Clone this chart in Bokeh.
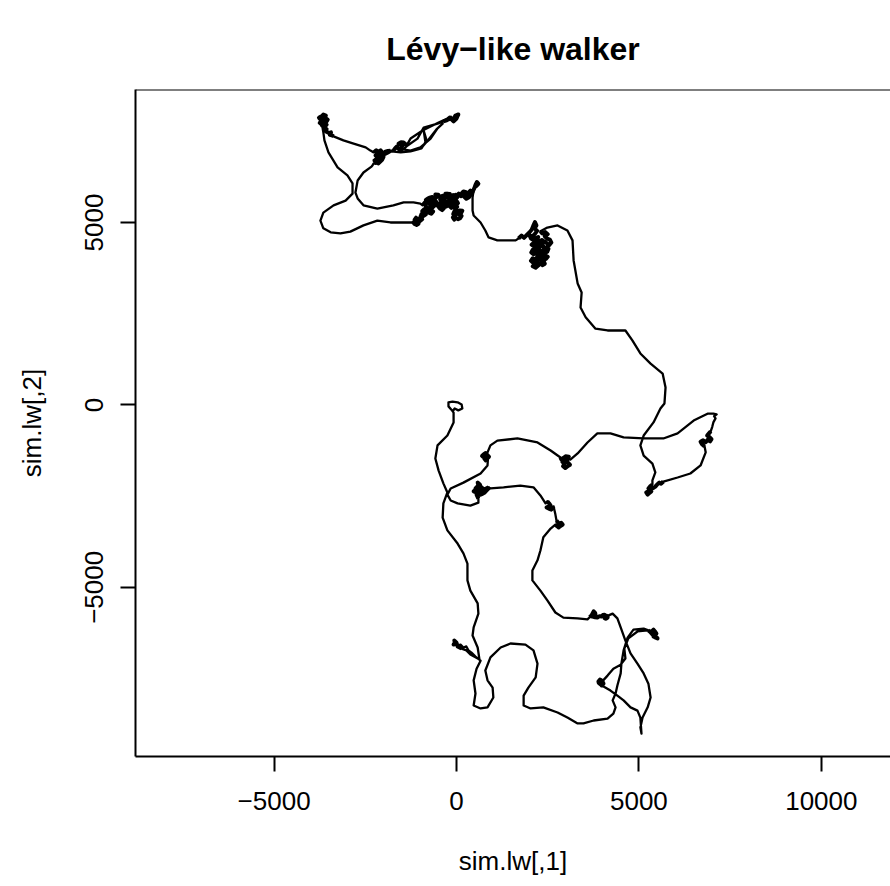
from bokeh.plotting import figure
from bokeh.models import Range1d, FixedTicker, Span
from bokeh.embed import file_html
from bokeh.resources import INLINE

title_text = "Lévy−like walker"
x_title = "sim.lw[,1]"
y_title = "sim.lw[,2]"
x_ticks = [-5000, 0, 5000, 10000]
x_tick_labels = ["−5000", "0", "5000", "10000"]
y_ticks = [-5000, 0, 5000]
y_tick_labels = ["−5000", "0", "5000"]

# walk, in order, piece by piece (data units)
seg_f_start = [(30,5190),(90,5230),(140,5180),(100,5120),(40,5090),(-20,5130),(-60,5080),(-100,5140),(-50,5190),(10,5240),(70,5290),(130,5270),(160,5320),(90,5330),(20,5300),(-40,5260),(-90,5230),(-60,5300),(0,5340),
               (-50,5390),(20,5430),(-30,5480),(40,5530),(0,5590),(-60,5550),(-110,5500),(-80,5440),(-140,5400),(-190,5450),(-150,5520),(-90,5600),(-30,5650),(30,5700),(-20,5760),(-80,5720),(-140,5670),(-200,5620),(-250,5560),(-220,5490),(-280,5440),(-330,5490),(-300,5560),(-350,5620),(-300,5680),(-240,5730),(-180,5780),(-260,5790),(-330,5740),(-400,5690),(-450,5640),(-410,5570),(-460,5510),(-400,5460),(-340,5400),(-390,5340),(-450,5380),(-500,5440),(-520,5520),
               (-570,5580),(-620,5640),(-680,5600),(-640,5530),(-590,5470),(-650,5420),(-710,5470),(-760,5530),(-720,5600),(-780,5660),(-840,5620),(-810,5550),(-870,5500),(-830,5430),(-770,5380),(-700,5340),(-640,5300),(-690,5240),(-760,5270),(-820,5320),(-890,5360),(-940,5310),(-900,5250),(-840,5220),(-900,5180),(-960,5230),
               (-990,5150),(-940,5090),(-1000,5040),(-1060,5090),(-1110,5130),(-1150,5070),(-1100,5010),(-1040,4970),(-1090,4930),(-1150,4960),(-1180,5000),(-1120,5040),(-1070,5000)]
seg_west_loop = [(-1340,5000),(-1620,5000),(-1810,5000),(-2170,5050),(-2550,4920),(-2910,4750),(-3180,4700),(-3450,4730),(-3650,4840),(-3730,5050),(-3650,5270),(-3370,5470),(-3040,5600),(-2850,5790),(-2850,6070),(-2990,6290),(-3260,6510),(-3510,6920),(-3620,7250),(-3650,7470)]
seg_a = [(-3670,7580),(-3610,7630),(-3560,7680),(-3620,7720),(-3690,7690),(-3750,7730),(-3700,7780),(-3630,7800),(-3570,7760),(-3530,7820),(-3590,7860),(-3660,7840),(-3730,7820),(-3770,7870),(-3710,7910),(-3640,7900),(-3580,7930),(-3650,7960),(-3700,7900),(-3640,7860),(-3590,7800),(-3660,7760),(-3720,7720),(-3680,7650),(-3620,7600),(-3560,7560),(-3610,7520),(-3550,7480),(-3490,7450),(-3440,7470),(-3470,7400),(-3400,7380),(-3370,7360)]
seg_a_c = [(-3100,7250),(-2820,7160),(-2490,7060),(-2360,6970)]
seg_c = [(-2270,6920),(-2200,6980),(-2140,6930),(-2080,6980),(-2040,6920),(-2090,6870),(-2160,6880),(-2220,6840),(-2170,6790),(-2110,6810),(-2060,6760),(-2120,6710),(-2190,6730),(-2250,6700),(-2200,6650),(-2140,6620),(-2090,6670),(-2040,6720),(-2000,6800),(-2050,6860),(-1990,6900),(-1950,6940),(-1880,6960),(-1810,6970)]
seg_d = [(-1730,6970),(-1680,7040),(-1640,7080),(-1560,7000),(-1500,7060),(-1480,7110),(-1540,7140),(-1590,7160),(-1520,7200),(-1450,7190),(-1400,7150),(-1370,7110)]
seg_d_e = [(-1260,7300),(-930,7520),(-490,7740),(-250,7850)]
seg_e = [(-190,7900),(-110,7820),(-60,7880),(-30,7930),(50,7960),(20,7900),(0,7850),(-80,7770),(-130,7820),(-160,7850),(-220,7830),(-270,7800),(-360,7770)]
seg_e_d = [(-520,7710),(-900,7600),(-1070,7300),(-1340,7110)]
seg_d2 = [(-1430,7030),(-1530,6950),(-1640,7030),(-1260,6970),(-990,7060),(-710,7300),(-520,7580),(-380,7710),(-550,7550),(-770,7270),(-930,7080),(-850,7190),(-900,7520),(-820,7250),(-960,7030),(-1260,6950),(-1530,6920)]
seg_c2 = [(-1780,6950),(-1870,6900),(-1950,6860),(-2030,6830),(-2110,6840),(-2180,6790),(-2220,6750),(-2160,6700),(-2140,6640),(-2210,6610),(-2270,6620),(-2300,6570),(-2330,6530)]
seg_c_f = [(-2550,6370),(-2710,6150),(-2770,5820),(-2710,5660),(-2550,5470),(-2170,5380),(-1730,5470),(-1450,5550),(-1180,5550),(-990,5520)]
seg_f2 = [(-930,5470),(-880,5530),(-820,5600),(-760,5560),(-700,5620),(-740,5680),(-660,5700),(-600,5650),(-540,5700),(-580,5770),(-500,5760),(-450,5690),(-380,5730),(-330,5670),(-270,5720),(-300,5790),(-220,5780),(-170,5710),(-100,5750),(-60,5680),(0,5730),(60,5790),(120,5720),(190,5760),(250,5700),(310,5770),(260,5830),(190,5850),(140,5800),(200,5720),(270,5650),(340,5690),(390,5760),(330,5820),(380,5870),(420,5790),(450,5860),(490,5940),(520,6030),(560,6110),(600,6060),(540,6000),(480,5960)]
seg_f_h = [(440,5680),(440,5330),(470,5190),(660,5000),(790,4780),(880,4590),(1120,4510),(1400,4510),(1620,4510)]
seg_h = [(1700,4560),(1780,4640),(1850,4580),(1920,4650),(1990,4720),(2060,4800),(2100,4900),(2150,5010),(2190,4920),(2140,4840),(2210,4770),(2150,4690),(2080,4620),(2000,4650),(2040,4560),(2110,4520),(2160,4560),(2240,4600),(2200,4500),(2120,4450),(2060,4390),(2130,4340),(2190,4380),(2260,4420),(2300,4340),(2220,4290),(2160,4220),(2090,4250),(2050,4180),(2110,4130),(2170,4150),(2240,4170),(2310,4230),(2370,4160),(2300,4100),(2220,4060),(2160,3990),(2090,4020),(2040,3950),(2100,3900),(2160,3930),(2230,3930),(2150,3870),(2090,3800),(2170,3760),(2240,3820),(2300,3880),(2360,3830),(2420,3870),(2400,3920),(2330,3970),(2390,4040),(2450,4000),(2500,4060),(2430,4100),(2350,4080),(2280,4010),(2260,4110),(2330,4190),(2400,4250),(2460,4320),(2520,4280),(2490,4200),(2430,4170),(2380,4350),(2330,4430),(2270,4480),(2340,4520),(2410,4470),(2480,4430),(2540,4380),(2600,4450),(2560,4530),(2480,4560),(2420,4620),(2500,4680),(2430,4740),(2350,4700),(2300,4760)]
seg_h_m = [(2490,4860),(2770,4920),(3040,4780),(3180,4510),(3210,3960),(3320,3330),(3430,3080),(3400,2670),(3540,2400),(3810,2090),(4140,2040),(4630,2040),(4820,1770),(5040,1410),(5320,1130),(5650,860),(5730,480),(5700,40),(5590,-100),(5400,-480),(5130,-840),(5040,-1110),(5130,-1390),(5370,-1610),(5450,-1850),(5370,-2070)]
seg_m = [(5370,-2180),(5300,-2240),(5260,-2290),(5310,-2340),(5340,-2370),(5280,-2420),(5240,-2460),(5200,-2400),(5270,-2360),(5320,-2320),(5390,-2280),(5450,-2240),(5500,-2180),(5560,-2130),(5610,-2160),(5670,-2100)]
seg_m_l = [(6060,-1990),(6410,-1880),(6690,-1660),(6830,-1300)]
seg_l = [(6800,-1140),(6730,-1080),(6690,-1010),(6760,-970),(6830,-1020),(6880,-960),(6950,-1000),(6990,-940),(6930,-880),(6870,-840),(6920,-780),(6970,-720)]
seg_l_k = [(7010,-600),(7040,-480),(7100,-370),(7060,-310),(7130,-260),(7040,-240)]
seg_k_j = [(6880,-240),(6500,-430),(6060,-780),(5670,-920),(5130,-920),(4580,-890),(4220,-780),(3860,-780),(3590,-1030),(3320,-1330),(3120,-1500)]
seg_j = [(3070,-1470),(3010,-1530),(3060,-1590),(3110,-1640),(3050,-1680),(2980,-1730),(2920,-1680),(2960,-1610),(2900,-1560),(2960,-1510),(3020,-1470),(3080,-1420),(2990,-1410),(2940,-1450),(2870,-1490),(2850,-1440)]
seg_j_i = [(2580,-1250),(2220,-1030),(1670,-920),(1120,-980),(930,-1110),(850,-1300)]
seg_i = [(790,-1390),(740,-1430),(700,-1400),(750,-1350),(800,-1320),(840,-1370),(890,-1420),(840,-1470),(800,-1520),(760,-1470),(820,-1440),(860,-1500)]
seg_i_o = [(850,-1660),(660,-1880),(190,-2130),(-160,-2290),(-250,-2460),(-160,-2620),(30,-2700),(380,-2760),(600,-2680)]
seg_o = [(600,-2570),(550,-2460),(630,-2370),(520,-2290),(600,-2210),(580,-2130),(640,-2180),(660,-2240),(720,-2290),(770,-2320),(830,-2280),(880,-2290),(820,-2350),(770,-2400),(710,-2440),(660,-2460),(620,-2400),(540,-2400),(470,-2370),(520,-2330),(580,-2350),(650,-2310),(710,-2350),(800,-2300),(880,-2260)]
seg_o_p = [(930,-2290),(1290,-2260),(1750,-2210),(2110,-2260),(2300,-2480),(2440,-2700)]
seg_p = [(2490,-2640),(2540,-2700),(2580,-2760),(2520,-2790),(2470,-2810),(2540,-2850),(2600,-2870),(2640,-2820),(2660,-2780)]
seg_p_q = [(2710,-3000)]
seg_q = [(2740,-3170),(2780,-3220),(2820,-3250),(2870,-3230),(2910,-3280),(2850,-3320),(2800,-3360),(2750,-3320),(2710,-3280)]
seg_q_t = [(2580,-3390),(2380,-3630),(2300,-3990),(2220,-4260),(2080,-4540),(2080,-4810),(2300,-5090),(2490,-5360),(2710,-5690),(2930,-5830),(3320,-5850),(3590,-5880)]
seg_t_u = [(3650,-5820),(3700,-5770),(3740,-5700),(3760,-5660),(3800,-5700),(3810,-5750),(3760,-5790),(3730,-5800),(3800,-5820),(3860,-5830),(3920,-5790),(3970,-5800),(4010,-5760),(4060,-5750),(4110,-5790),(4140,-5830),(4100,-5860),(4060,-5850),(4120,-5810),(4170,-5770)]
seg_u_tip = [(4280,-5720),(4410,-5850),(4500,-6100),(4630,-6460),(4770,-6810),(4960,-7090),(5130,-7360),(5260,-7640),(5320,-8020),(5240,-8290),(5100,-8570),(5040,-8840),(5070,-9010)]
seg_tip_v = [(5040,-8570),(4960,-8380),(4770,-8290),(4580,-8100),(4410,-7970),(4220,-7830),(4030,-7720)]
seg_v = [(3950,-7660),(3900,-7620),(3890,-7580),(3930,-7530),(3970,-7550),(4010,-7600),(4030,-7640),(3980,-7690),(3940,-7640)]
seg_v_r = [(4140,-7420),(4300,-7230),(4500,-7120),(4630,-6950),(4600,-6680),(4710,-6400),(4960,-6210),(5240,-6180)]
seg_r = [(5320,-6240),(5360,-6200),(5400,-6160),(5440,-6210),(5480,-6270),(5440,-6310),(5400,-6350),(5460,-6380),(5510,-6400),(5450,-6330),(5370,-6290),(5310,-6220),(5260,-6180)]
seg_r_loop = [(5130,-6130),(4850,-6160),(4690,-6380),(4580,-6730),(4520,-7090),(4500,-7360),(4410,-7690),(4360,-7910),(4280,-8100),(4360,-8290),(4300,-8460),(4140,-8600),(3760,-8650),(3480,-8730),(3320,-8730),(3040,-8570),(2770,-8430),(2380,-8290),(2030,-8320),(1840,-8240),(1840,-7970),(1970,-7750),(2170,-7470),(2220,-7090),(2110,-6730),(1890,-6570),(1480,-6540),(1210,-6650),(930,-6920),(790,-7280),(850,-7550),(990,-7750),(1010,-8020),(850,-8290),(660,-8320),(470,-8240),(520,-7910),(470,-7550),(550,-7230),(660,-7010)]
seg_s_trail = [(520,-6900),(410,-6790),(330,-6730),(270,-6620),(190,-6650),(110,-6570)]
seg_s = [(30,-6600),(-30,-6490),(-80,-6570),(-20,-6540),(-60,-6460),(0,-6520),(30,-6620),(140,-6680)]
seg_s_back = [(270,-6730),(380,-6840),(520,-6920),(630,-6980)]
seg_s_n = [(580,-6650),(440,-6320),(470,-6100),(600,-5720),(580,-5440),(380,-5090),(300,-4810),(300,-4350),(190,-4070),(30,-3800),(-250,-3440),(-380,-3090),(-360,-2700),(-250,-2400),(-360,-2150),(-490,-1800),(-580,-1470),(-520,-1110),(-250,-840),(-80,-480),(-80,-210)]
seg_n = [(-140,-130),(-220,-40),(-220,70),(-110,90),(30,70),(140,10),(160,-100),(50,-150),(-50,-100),(-110,-180)]

segments = [seg_f_start, seg_west_loop, seg_a, seg_a_c, seg_c, seg_d, seg_d_e, seg_e, seg_e_d,
            seg_d2, seg_c2, seg_c_f, seg_f2, seg_f_h, seg_h, seg_h_m, seg_m, seg_m_l, seg_l, seg_l_k,
            seg_k_j, seg_j, seg_j_i, seg_i, seg_i_o, seg_o, seg_o_p, seg_p, seg_p_q, seg_q, seg_q_t,
            seg_t_u, seg_u_tip, seg_tip_v, seg_v, seg_v_r, seg_r, seg_r_loop, seg_s_trail, seg_s,
            seg_s_back, seg_s_n, seg_n]
# the dense bursts of many tiny steps, which ink up into solid blobs
clusters = [seg_f_start, seg_a, seg_c, seg_d, seg_e, seg_f2, seg_h, seg_m, seg_l, seg_j, seg_i,
            seg_o, seg_p, seg_q, seg_t_u, seg_v, seg_r, seg_s]

walk = [pt for seg in segments for pt in seg]
walk_x = [pt[0] for pt in walk]
walk_y = [pt[1] for pt in walk]
blob_xs = [[pt[0] for pt in seg] for seg in clusters]
blob_ys = [[pt[1] for pt in seg] for seg in clusters]

FONT = "Liberation Sans"
X0, X1 = -8799, 11896
Y0, Y1 = -9637, 8645

p = figure(width=890, height=886, output_backend="svg", toolbar_location=None,
           x_range=Range1d(X0, X1), y_range=Range1d(Y0, Y1),
           min_border_left=135, min_border_right=0, min_border_top=89, min_border_bottom=130)
p.outline_line_color = None
p.grid.visible = False
p.background_fill_color = "white"
p.border_fill_color = "white"

p.line(walk_x, walk_y, line_color="black", line_width=2.3, line_join="round")
p.multi_line(blob_xs, blob_ys, line_color="black", line_width=4, line_join="round")

for ax, ticks, labels in ((p.xaxis, x_ticks, x_tick_labels), (p.yaxis, y_ticks, y_tick_labels)):
    ax.ticker = FixedTicker(ticks=ticks)
    ax.major_label_overrides = {t: l for t, l in zip(ticks, labels)}
    ax.minor_tick_line_color = None
    ax.major_tick_in = 0
    ax.major_tick_out = 15
    ax.major_tick_line_width = 2
    ax.axis_line_width = 2
    ax.axis_line_color = "black"
    ax.major_tick_line_color = "black"
    ax.major_label_text_font = FONT
    ax.major_label_text_font_size = "26px"
    ax.major_label_text_color = "black"
    ax.axis_label_text_font = FONT
    ax.axis_label_text_font_size = "26px"
    ax.axis_label_text_font_style = "normal"
    ax.axis_label_text_color = "black"
p.xaxis.axis_label = x_title
p.yaxis.axis_label = y_title
p.xaxis.major_label_standoff = 20
p.yaxis.major_label_standoff = 17
p.yaxis.major_label_orientation = "vertical"
p.xaxis.axis_label_standoff = 33
p.yaxis.axis_label_standoff = 36

p.add_layout(Span(location=Y1, dimension="width", line_color="black", line_width=2))

p.title.text = title_text
p.title.align = "center"
p.title.text_font = FONT
p.title.text_font_size = "32px"
p.title.text_font_style = "bold"
p.title.text_color = "black"
p.title.standoff = 46

open("out.html", "w").write(file_html(p, INLINE))
